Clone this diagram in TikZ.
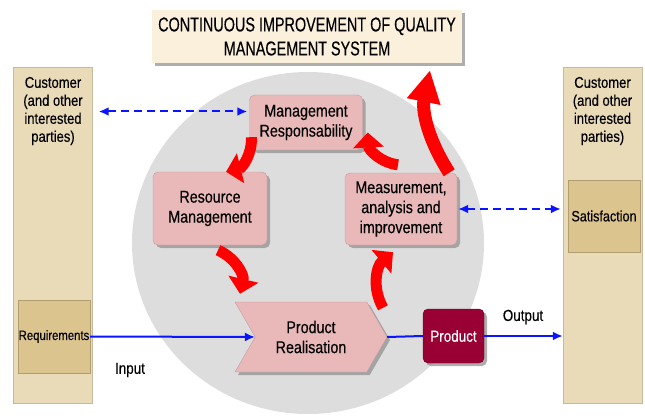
\documentclass[tikz,border=0pt]{standalone}
\usepackage{fontspec}
\setmainfont{Liberation Sans}
\newfontfamily\narrowsans[FakeStretch=0.84,FakeBold=0.3]{Liberation Sans}
\newfontfamily\titlesans[FakeStretch=0.72,FakeBold=0.3]{Liberation Sans}
\usetikzlibrary{arrows.meta,shapes.symbols,shadows,calc}
\definecolor{parchment}{HTML}{E9DAB8}
\definecolor{parchdark}{HTML}{DCC48F}
\definecolor{titlecream}{HTML}{FBF0DB}
\definecolor{discgray}{HTML}{DDDDDD}
\definecolor{boxpink}{HTML}{E9B8B8}
\definecolor{prodred}{HTML}{990033}
\definecolor{flowblue}{HTML}{0A14FF}
\tikzstyle{column}=[fill=parchment, draw=parchment!85!black, minimum width=79pt, minimum height=336pt, inner sep=0pt]
\tikzstyle{colname}=[align=center, font=\narrowsans\fontsize{15.5}{18}\selectfont]
\tikzstyle{tag}=[fill=parchdark, draw=parchdark!80!black, inner sep=0pt, font=\narrowsans\fontsize{15}{16}\selectfont]
\tikzstyle{shade}=[drop shadow={shadow xshift=3pt,shadow yshift=-3pt,fill=black!45,opacity=0.7}]
\tikzstyle{stage}=[shade, fill=boxpink, draw=boxpink!85!black, rounded corners=5pt, align=center, inner sep=0pt, font=\narrowsans\fontsize{17}{20}\selectfont]
\tikzstyle{flow}=[draw=flowblue, line width=2pt, -{Latex[length=10pt,width=9pt]}]
\tikzstyle{feedback}=[flow, dash pattern=on 8pt off 5pt, {Latex[length=10pt,width=9pt]}-{Latex[length=10pt,width=9pt]}]
\tikzstyle{turn}=[draw=red, line width=11pt, -{Triangle[length=15pt,width=30pt]}]
\newcommand{\redturn}[3]{
\draw[turn] #1 to[bend left=#3] #2;
}

\begin{document}
\begin{tikzpicture}[x=1pt,y=-1pt]
\useasboundingbox (0,0) rectangle (645,417);
% customers on both sides
\node[column] (left) at (53,235) {};
\node[column] (right) at (602.5,235) {};
\node[colname] (leftname) at (53,111) {Customer\\(and other\\interested\\parties)};
\node[colname] (rightname) at (602.5,111) {Customer\\(and other\\interested\\parties)};
\node[tag, minimum width=72pt, minimum height=73pt, font=\narrowsans\fontsize{13.5}{15}\selectfont] (req) at (54,336.5) {Requirements};
\node[tag, minimum width=72pt, minimum height=72pt] (sat) at (604,216) {Satisfaction};
\node[shade, fill=titlecream, minimum width=310pt, minimum height=53pt, align=center, font=\titlesans\fontsize{20}{24}\selectfont] (title) at (307,36.5) {CONTINUOUS IMPROVEMENT OF QUALITY\\MANAGEMENT SYSTEM};
\fill[discgray] (308,243) ellipse (176pt and 171pt);
\node[stage, minimum width=113pt, minimum height=55pt] (mr) at (306,122.5) {Management\\Responsability};
\node[stage, minimum width=114pt, minimum height=73pt] (rm) at (210,208.5) {Resource\\Management};
\node[stage, minimum width=112pt, minimum height=72pt] (meas) at (401,209) {Measurement,\\analysis and\\improvement};
\node[stage, rounded corners=0pt, signal, signal to=east, signal from=west, signal pointer angle=120, minimum width=152pt, minimum height=70pt] (pr) at (311,337) {Product\\Realisation};
\node[shade, fill=prodred, draw=prodred!70!black, rounded corners=5pt, minimum width=61pt, minimum height=54pt, text=white, font=\narrowsans\fontsize{16}{18}\selectfont] (prod) at (453.5,336) {Product};
\node[font=\narrowsans\fontsize{16}{18}\selectfont] (input) at (130,370) {Input};
\node[font=\narrowsans\fontsize{16}{18}\selectfont] (output) at (523,317) {Output};
% the cycle
\redturn{([xshift=2pt,yshift=13pt]mr.south west)}{([xshift=16pt]rm.north)}{40}
\redturn{([xshift=8pt,yshift=-5pt]rm.south)}{([xshift=-71pt,yshift=8pt]pr.north)}{40}
\redturn{([xshift=72pt,yshift=-6pt]pr.north)}{([xshift=-8pt,yshift=-7pt]meas.south)}{40}
\redturn{([xshift=-3pt,yshift=8pt]meas.north)}{([xshift=5pt,yshift=-10pt]mr.east)}{40}
\draw[turn, line width=13pt, -{Triangle[length=32pt,width=32pt]}] ([xshift=-8pt]meas.north east) to[bend left=22] ([xshift=123pt,yshift=-7pt]title.south); %improvement
% flows
\coordinate (mrin) at ([yshift=11pt]mr.west);
\draw[feedback, shorten <=6pt, shorten >=2pt] (left.east |- mrin) -- (mrin);
\draw[feedback, shorten <=1pt, shorten >=2pt] (meas.east) -- (meas.east -| right.west);
\draw[flow] (req.east) -- (pr.west);
\draw[flow, -] (pr.east) -- (prod.west);
\draw[flow] (prod.east) -- (prod.east -| right.west);
\end{tikzpicture}
\end{document}
